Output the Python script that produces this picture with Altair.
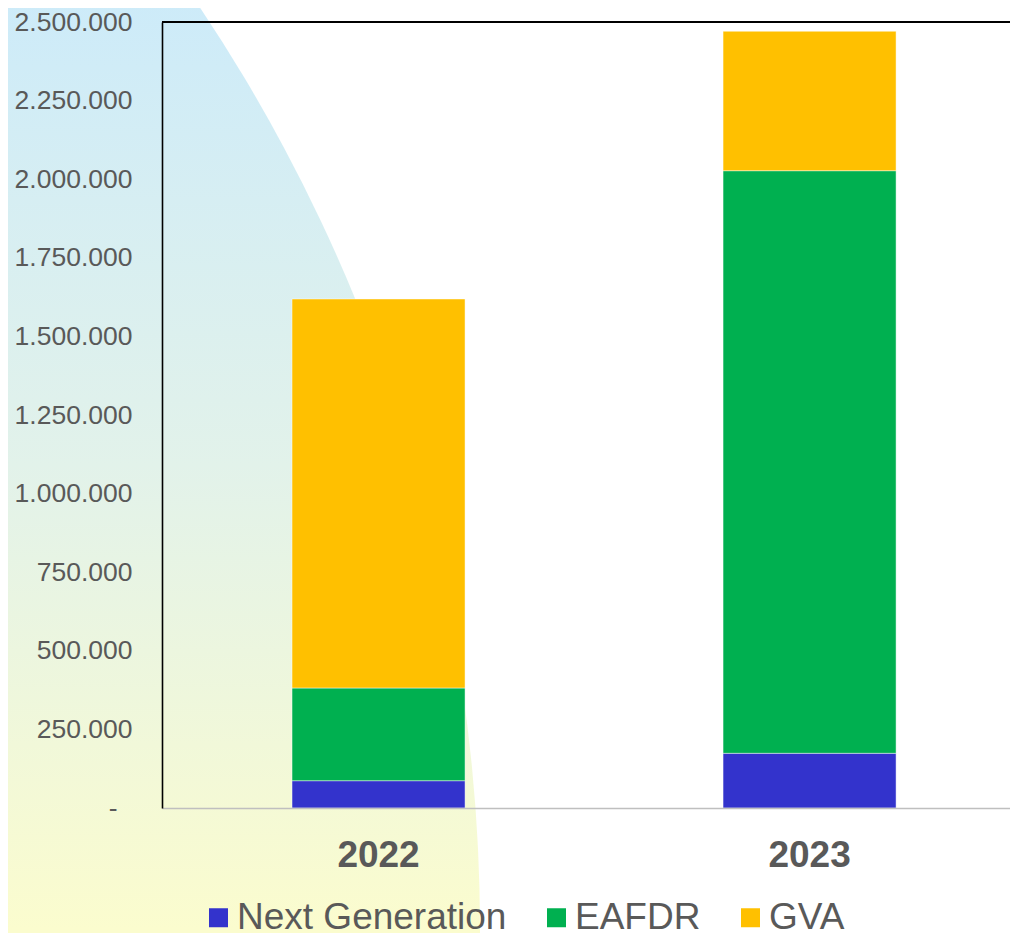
import altair as alt
import pandas as pd

# ---- data ----
years = ["2022", "2023"]
series = ["Next Generation", "EAFDR", "GVA"]
next_generation = [86800, 174000]
eafdr = [294900, 1853000]
gva = [1237300, 443500]
colors = ["#3333CC", "#00B050", "#FFC000"]
y_ticks = [0, 250000, 500000, 750000, 1000000, 1250000, 1500000,
           1750000, 2000000, 2250000, 2500000]

rows = []
for i, yr in enumerate(years):
    for k, (name, vals) in enumerate(zip(series, [next_generation, eafdr, gva])):
        rows.append({"year": yr, "serie": name, "value": vals[i], "idx": k})
df = pd.DataFrame(rows)

FONT = "Liberation Sans"
GRAY = "#595959"
W, H = 848, 786

# decorative background blob (light blue -> light yellow)
bg = alt.Chart(alt.Data(values=[{"a": 1}])).mark_arc(
    theta=0, theta2=6.2832,
    fill={
        "gradient": "linear", "x1": 0, "y1": 0, "x2": 0, "y2": 1,
        "stops": [
            {"offset": 0.0, "color": "#C6E7FA"},
            {"offset": 0.22, "color": "#CDEBF9"},
            {"offset": 0.36, "color": "#E2F2EA"},
            {"offset": 0.50, "color": "#FBFCCE"},
            {"offset": 1.0, "color": "#FBFCCE"},
        ],
    },
).encode(
    x=alt.value(-1341),
    y=alt.value(908),
    radius=alt.value(1659),
)

label_expr = ("datum.value == 0 ? '-' : "
              "replace(format(datum.value, ','), regexp(',', 'g'), '.')")

bars = alt.Chart(df).mark_bar(
    stroke="#ffffff", strokeWidth=1, strokeOpacity=0.45
).encode(
    x=alt.X("year:N", sort=years,
            scale=alt.Scale(paddingInner=0.5986, paddingOuter=0.283, align=0.533),
            axis=alt.Axis(title=None, labelAngle=0, labelFontSize=37,
                          labelFontWeight="bold", labelColor=GRAY, labelFont=FONT,
                          ticks=False, labelPadding=29, domainColor="#BFBFBF",
                          domainWidth=1.5, grid=False, zindex=1)),
    y=alt.Y("value:Q", stack="zero",
            scale=alt.Scale(domain=[0, 2500000], nice=False, zero=True),
            axis=alt.Axis(title=None, values=y_ticks, labelExpr=label_expr,
                          labelFontSize=26.5, labelColor=GRAY, labelFont=FONT,
                          ticks=False,
                          labelPadding={"condition": {"test": "datum.value == 0", "value": 45},
                                        "value": 30},
                          domainColor="#000000",
                          domainWidth=1.6, grid=False, zindex=1)),
    color=alt.Color("serie:N", sort=series,
                    scale=alt.Scale(domain=series, range=colors),
                    legend=alt.Legend(title=None, orient="none", legendX=38,
                                      legendY=877, direction="horizontal",
                                      symbolType="square", symbolSize=361,
                                      symbolStrokeWidth=0, labelFontSize=37,
                                      labelColor=GRAY, labelFont=FONT,
                                      labelOffset=0, columnPadding=31,
                                      labelLimit=600, padding=0)),
    order=alt.Order("idx:Q", sort="ascending"),
)

top_line = alt.Chart(alt.Data(values=[{"v": 2500000}])).mark_rule(
    color="#000000", strokeWidth=2
).encode(y=alt.Y("v:Q"))

chart = alt.layer(bg, bars, top_line).properties(
    width=W, height=H,
    autosize=alt.AutoSizeParams(type="none"),
    padding={"left": 154, "top": 14, "right": 0, "bottom": 125},
    background="#ffffff",
).configure_view(stroke=None).configure(font=FONT)

chart.save("out.html", embed_options={"renderer": "svg", "actions": False})
